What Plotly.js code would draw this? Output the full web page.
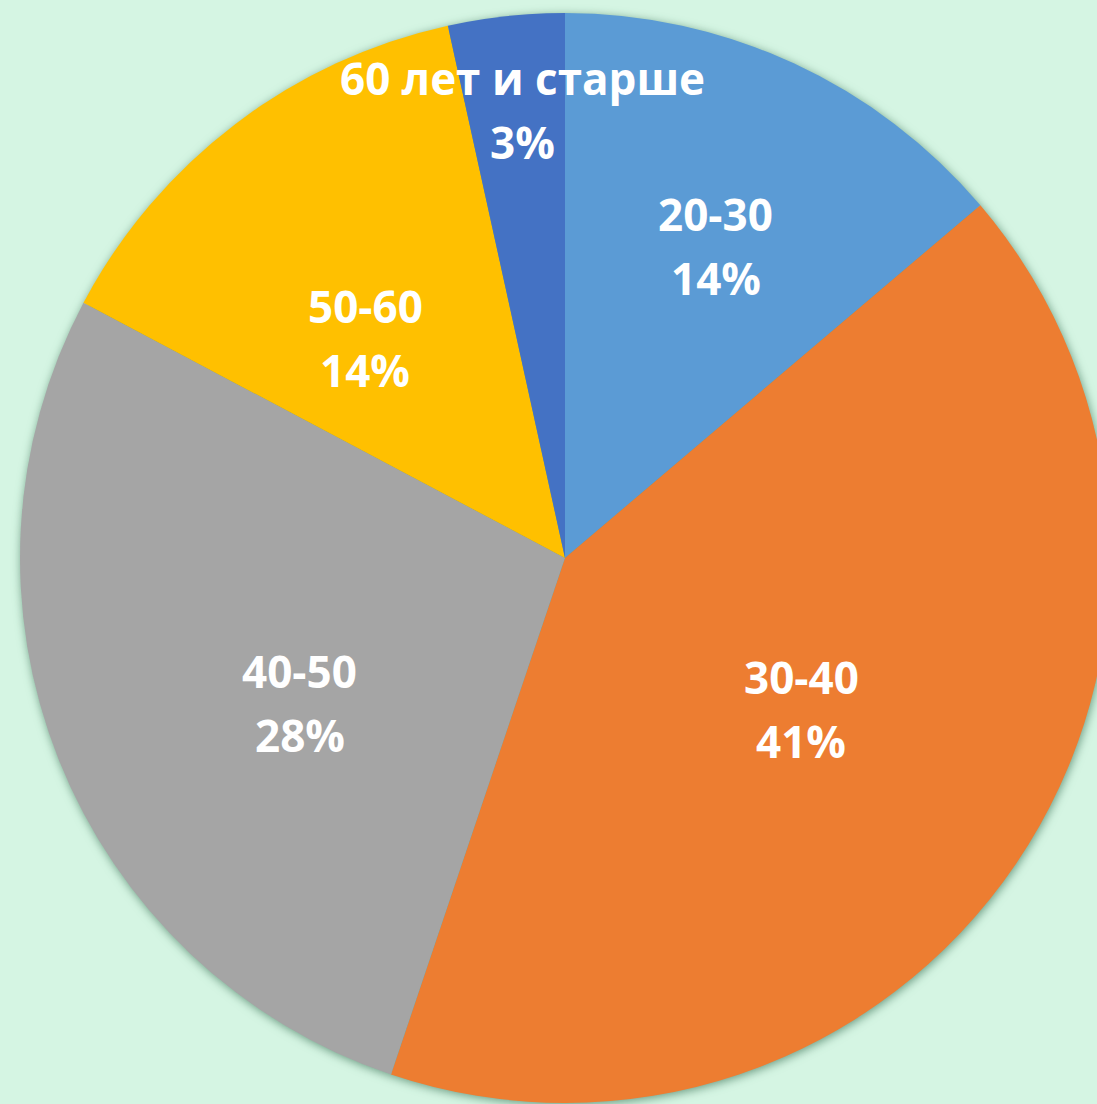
<!DOCTYPE html>
<html>
<head>
<meta charset="utf-8">
<script src="https://cdn.plot.ly/plotly-3.0.1.min.js"></script>
<style>
  html, body { margin: 0; padding: 0; background: #D5F5E3; overflow: hidden; }
  #chart { width: 1130px; height: 1104px; }
  .pielayer { filter: drop-shadow(1px 2px 5px rgba(20, 80, 50, 0.55)); }
</style>
</head>
<body>
<div id="chart"></div>
<script>
// Data
const categories = ['20-30', '30-40', '40-50', '50-60', '60 лет и старше'];
const counts = [8, 24, 16, 8, 2];
const colors = ['#5B9BD5', '#ED7D31', '#A5A5A5', '#FFC000', '#4472C4'];

// Label placement config (radial fraction of radius, angle shift in degrees)
const labelR = [0.635, 0.515, 0.555, 0.545, 0.825];
const labelShift = [1.0, -1.5, -7, -5, 0.8];
const lineGap = 32; // half distance between the two label lines, px

const W = 1130, H = 1104;
const cx = 565, cy = 558, R = 545;

const total = counts.reduce((a, b) => a + b, 0);
let cum = 0;
const annotations = [];
counts.forEach((v, i) => {
  const mid = (cum + v / 2) / total * 360 + labelShift[i];
  cum += v;
  const th = mid * Math.PI / 180;
  const r = labelR[i] * R;
  const px = cx + r * Math.sin(th);
  const py = cy - r * Math.cos(th);
  const lines = [categories[i], Math.round(v / total * 100) + '%'];
  lines.forEach((t, k) => {
    annotations.push({
      xref: 'paper', yref: 'paper',
      x: px / W, y: 1 - (py + (k === 0 ? -lineGap : lineGap)) / H,
      xanchor: 'center', yanchor: 'middle',
      text: '<b>' + t + '</b>',
      showarrow: false,
      font: { family: 'Open Sans', size: 44, color: '#FFFFFF' }
    });
  });
});

const trace = {
  type: 'pie',
  labels: categories,
  values: counts,
  sort: false,
  direction: 'clockwise',
  rotation: 0,
  marker: { colors: colors, line: { width: 0 } },
  textinfo: 'none',
  hoverinfo: 'none',
  showlegend: false,
  domain: {
    x: [(cx - R) / W, (cx + R) / W],
    y: [1 - (cy + R) / H, 1 - (cy - R) / H]
  }
};

const layout = {
  width: W, height: H,
  margin: { l: 0, r: 0, t: 0, b: 0 },
  paper_bgcolor: '#D5F5E3',
  plot_bgcolor: '#D5F5E3',
  showlegend: false,
  annotations: annotations
};

Plotly.newPlot('chart', [trace], layout, { staticPlot: true, displayModeBar: false });
</script>
</body>
</html>
